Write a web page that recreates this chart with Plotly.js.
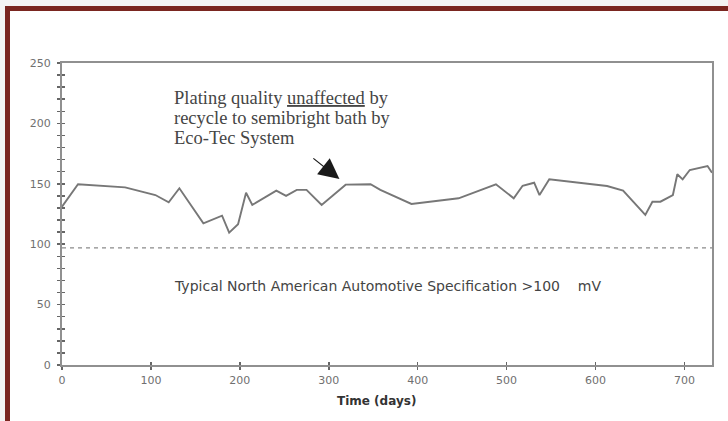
<!DOCTYPE html>
<html>
<head>
<meta charset="utf-8">
<script src="https://cdn.plot.ly/plotly-3.0.1.min.js"></script>
<style>
  html, body { margin: 0; padding: 0; background: #ffffff; }
  #wrap { position: relative; width: 728px; height: 421px; overflow: hidden; }
  #chart { position: absolute; left: 0; top: 0; width: 728px; height: 421px; }
  #frame { position: absolute; left: 5px; top: 6px; width: 740px; height: 430px;
           border-top: 5px solid #7a2620; border-left: 5px solid #7a2620;
           pointer-events: none; box-sizing: border-box; }
  #topband { position: absolute; left: 0; top: 0; width: 728px; height: 6px; background: #f4f4f4; }
  #leftband { position: absolute; left: 0; top: 0; width: 5px; height: 421px; background: #f4f4f4; }
</style>
</head>
<body>
<div id="wrap">
  <div id="chart"></div>
  <div id="topband"></div>
  <div id="leftband"></div>
  <div id="frame"></div>
</div>
<script>
// Time (days) and plating potential difference (mV)
const days = [0, 18, 71, 105, 120, 132, 159, 180, 188, 198, 207, 214, 241, 252, 264, 275, 292, 319, 347, 358, 393, 446, 488, 508, 518, 531, 537, 548, 613, 631, 656, 664, 673, 687, 692, 698, 706, 726, 731];
const mv   = [131, 149.6, 147, 140.7, 134.7, 146.3, 117.3, 123.6, 109.5, 116.5, 142.6, 132.5, 144.3, 140, 145, 145, 132.5, 149.3, 149.6, 145, 133.3, 138, 149.6, 138, 148.4, 150.9, 140.7, 153.7, 148.2, 144.3, 124.2, 135.2, 135.2, 140.7, 157.9, 153.7, 161.4, 164.7, 159.2];

// Specification line
const specDays = [0, 731];
const specMv = [97, 97];

const xTickVals = [0, 100, 200, 300, 400, 500, 600, 700];
const yTickVals = [0, 50, 100, 150, 200, 250];

// Note text lines
const noteLines = ['Plating quality <u>unaffected</u> by', 'recycle to semibright bath by', 'Eco-Tec System'];
const noteLineY = [221, 204.5, 188];

const xRange = [0, 731];
const yRange = [0, 250];

const traces = [
  {
    x: days, y: mv, type: 'scatter', mode: 'lines',
    line: { color: '#777777', width: 1.9 },
    xaxis: 'x', yaxis: 'y', hoverinfo: 'skip'
  },
  {
    x: specDays, y: specMv, type: 'scatter', mode: 'lines',
    line: { color: '#8a8a8a', width: 1.2, dash: '4px,4px' },
    xaxis: 'x2', yaxis: 'y2', hoverinfo: 'skip'
  }
];

const sans = 'DejaVu Sans, Verdana, sans-serif';
const tickFont = { family: sans, size: 11, color: '#707070' };

const annotations = noteLines.map((t, i) => ({
  xref: 'x', yref: 'y', x: 124, y: noteLineY[i], xanchor: 'left', yanchor: 'middle', align: 'left',
  showarrow: false, text: t,
  font: { family: 'Liberation Serif, Times New Roman, serif', size: 18.5, color: '#454545' }
}));
annotations.push({
  xref: 'x', yref: 'y', x: 312, y: 154, axref: 'x', ayref: 'y', ax: 281, ay: 172,
  showarrow: true, arrowhead: 2, arrowsize: 3.4, arrowwidth: 1.2, arrowcolor: '#1a1a1a', text: ''
});
annotations.push({
  xref: 'x', yref: 'y', x: 124, y: 65.5, xanchor: 'left', yanchor: 'middle',
  showarrow: false,
  text: 'Typical North American Automotive Specification &gt;100&nbsp;&nbsp;&nbsp;&nbsp;mV',
  font: { family: sans, size: 14, color: '#444' }
});
// x-axis title, placed as in the reference (slightly left of plot centre)
annotations.push({
  xref: 'x', yref: 'paper', x: 354, y: -0.119, xanchor: 'center', yanchor: 'middle',
  showarrow: false, text: '<b>Time (days)</b>',
  font: { family: sans, size: 12, color: '#333' }
});

const layout = {
  width: 728, height: 421,
  margin: { l: 62, r: 16, t: 63, b: 56 },
  paper_bgcolor: '#ffffff', plot_bgcolor: '#ffffff',
  showlegend: false,
  xaxis: {
    range: xRange, tickvals: xTickVals, ticktext: xTickVals.map(String),
    ticks: 'outside', ticklen: 3, tickwidth: 1.5, tickcolor: '#666',
    showline: true, linecolor: '#909090', linewidth: 2, mirror: true,
    showgrid: false, zeroline: false, tickfont: tickFont, ticklabelstandoff: 1
  },
  yaxis: {
    range: yRange, tickvals: yTickVals, ticktext: yTickVals.map(String),
    ticks: 'outside', ticklen: 3, tickwidth: 1.5, tickcolor: '#666',
    minor: { dtick: 10, ticks: 'outside', ticklen: 3, tickwidth: 1.5, tickcolor: '#666', showgrid: false },
    showline: true, linecolor: '#909090', linewidth: 2, mirror: true,
    showgrid: false, zeroline: false, tickfont: tickFont, ticklabelstandoff: 4
  },
  xaxis2: {
    overlaying: 'x', matches: 'x', side: 'bottom', range: xRange,
    tickvals: xTickVals, ticks: 'inside', ticklen: 3, tickwidth: 1.5, tickcolor: '#666',
    showticklabels: false, showline: false, showgrid: false, zeroline: false
  },
  yaxis2: {
    overlaying: 'y', matches: 'y', side: 'left', range: yRange,
    tickvals: yTickVals, ticks: 'inside', ticklen: 3, tickwidth: 1.5, tickcolor: '#666',
    minor: { dtick: 10, ticks: 'inside', ticklen: 3, tickwidth: 1.5, tickcolor: '#666', showgrid: false },
    showticklabels: false, showline: false, showgrid: false, zeroline: false
  },
  annotations: annotations
};

Plotly.newPlot('chart', traces, layout, { staticPlot: true, displayModeBar: false });
</script>
</body>
</html>
